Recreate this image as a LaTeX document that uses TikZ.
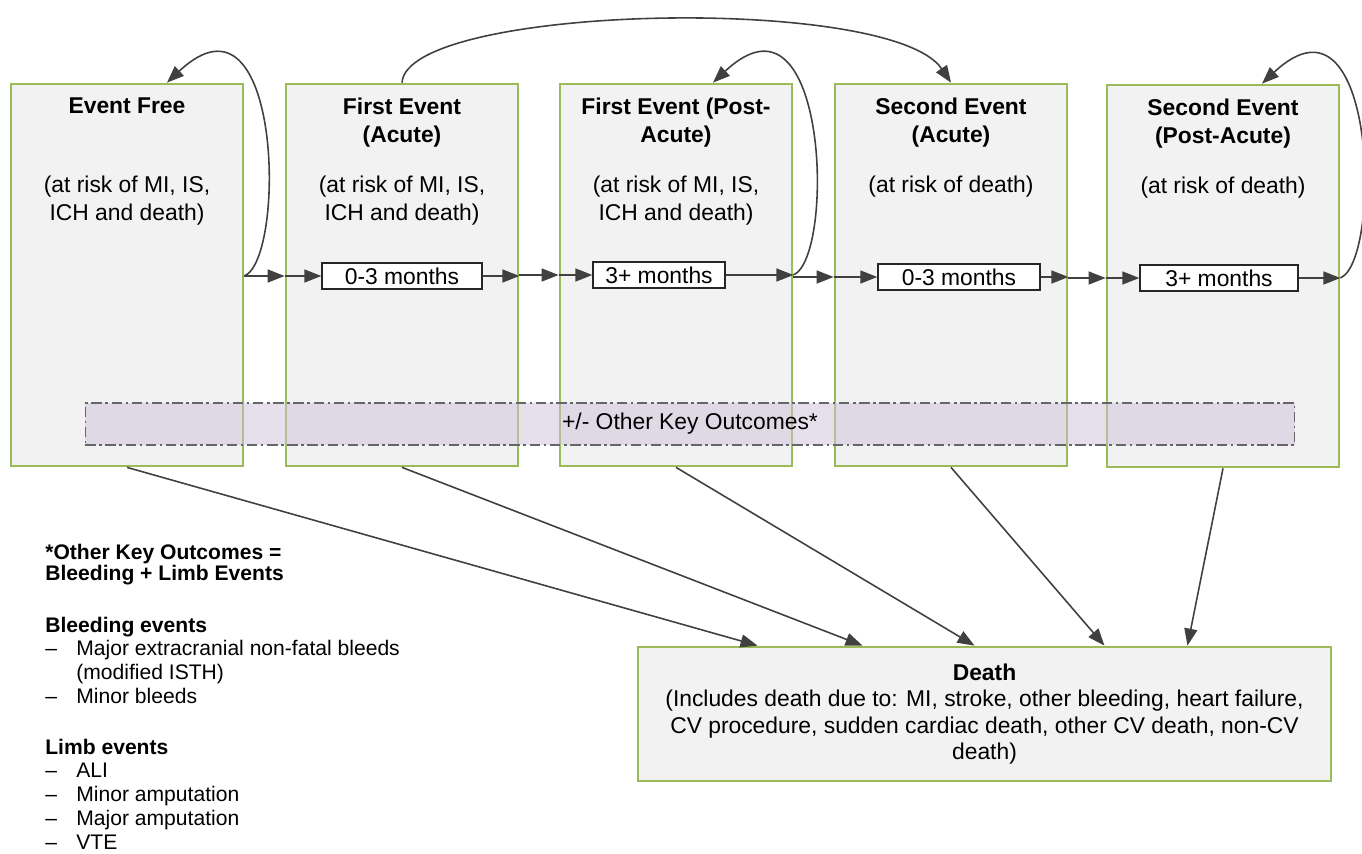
\documentclass[tikz,border=0pt]{standalone}
\usepackage{fontspec}
\setmainfont{Liberation Sans}
\usetikzlibrary{arrows.meta,positioning}

\definecolor{boxgreen}{HTML}{9BBB59}
\definecolor{boxfill}{HTML}{F2F2F2}
\definecolor{bandfill}{HTML}{CCC1DA}
\definecolor{linegray}{HTML}{404040}

\tikzset{
    state/.style={draw=boxgreen, line width=1.6pt, fill=boxfill, minimum width=4.64cm, minimum height=7.64cm, inner sep=0pt},
    ttl/.style={font=\fontsize{13}{15.8}\selectfont\bfseries, align=center, inner sep=0pt, anchor=north},
    risk/.style={align=center, inner sep=0pt, anchor=north},
    period/.style={draw=black!85, fill=white, line width=0.8pt, minimum height=0.52cm, inner sep=0pt},
    flow/.style={draw=linegray, line width=0.9pt, -{Triangle[length=3.4mm,width=2.6mm]}},
    legend/.style={font=\fontsize{12}{13.6}\selectfont, align=left, inner sep=0pt, anchor=north west}
}

\begin{document}
\begin{tikzpicture}[x=0.02cm, y=-0.02cm, font=\fontsize{13}{15.8}\selectfont]
        \useasboundingbox (0,0) rectangle (1362,853);

        \node[state] (b1) at (127,275) {};
        \node[state] (b2) at (402,275) {};
        \node[state] (b3) at (676,275) {};
        \node[state] (b4) at (951,275) {};
        \node[state] (b5) at (1223,276) {};

        \node[ttl] (t1) at ([yshift=-0.3cm]b1.north) {Event Free};
        \node[ttl] (t2) at ([yshift=-0.3cm]b2.north) {First Event\\(Acute)};
        \node[ttl] (t3) at ([yshift=-0.3cm]b3.north) {First Event (Post-\\Acute)};
        \node[ttl] (t4) at ([yshift=-0.3cm]b4.north) {Second Event\\(Acute)};
        \node[ttl] (t5) at ([yshift=-0.3cm]b5.north) {Second Event\\(Post-Acute)};

        \node[risk] (r1) at ([yshift=-1.86cm]b1.north) {(at risk of MI, IS,\\ICH and death)};
        \node[risk] (r2) at ([yshift=-1.86cm]b2.north) {(at risk of MI, IS,\\ICH and death)};
        \node[risk] (r3) at ([yshift=-1.86cm]b3.north) {(at risk of MI, IS,\\ICH and death)};
        \node[risk] (r4) at ([yshift=-1.86cm]b4.north) {(at risk of death)};
        \node[risk] (r5) at ([yshift=-1.86cm]b5.north) {(at risk of death)};

        \node[period, minimum width=3.2cm] (m1) at (402,276) {0-3 months};
        \node[period, minimum width=2.64cm] (m2) at (659,275) {3+ months};
        \node[period, minimum width=3.24cm] (m3) at (959,277) {0-3 months};
        \node[period, minimum width=3.16cm] (m4) at (1219,278) {3+ months};

        \draw[flow] (b1.east |- m1) -- (b2.west |- m1);
        \draw[flow] (b2.west |- m1) -- (m1);
        \draw[flow] (m1) -- (b2.east |- m1);
        \draw[flow] (b2.east |- m2) -- (b3.west |- m2);
        \draw[flow] (b3.west |- m2) -- (m2);
        \draw[flow] (m2) -- (b3.east |- m2);
        \draw[flow] (b3.east |- m3) -- (b4.west |- m3);
        \draw[flow] (b4.west |- m3) -- (m3);
        \draw[flow] (m3) -- (b4.east |- m3);
        \draw[flow] (b4.east |- m4) -- (b5.west |- m4);
        \draw[flow] (b5.west |- m4) -- (m4);
        \draw[flow] (m4) -- (b5.east |- m4);

        \draw[flow] (b1.east |- m1) .. controls +(42,-18) and +(115,-108) .. ([xshift=0.8cm]b1.north);
        \draw[flow] (b3.east |- m2) .. controls +(42,-18) and +(115,-108) .. ([xshift=0.74cm]b3.north);
        \draw[flow] (b5.east |- m4) .. controls +(42,-18) and +(115,-108) .. ([xshift=0.78cm]b5.north);
        \draw[flow] (b2.north) .. controls +(5,-78) and +(-60,-89) .. (b4.north);

        \node[draw=gray!80!black, line width=0.6pt, dash pattern=on 6pt off 2pt on 1.5pt off 2pt,
            fill=bandfill, fill opacity=0.5, text opacity=1, minimum width=24.2cm, minimum height=0.84cm]
            (band) at (690,424) {+/- Other Key Outcomes*};

        \node[state, minimum width=13.86cm, minimum height=2.68cm, align=center, font=\fontsize{13}{15}\selectfont]
            (death) at (984.5,714) {\textbf{Death}\\(Includes death due to: MI, stroke, other bleeding, heart failure,\\CV procedure, sudden cardiac death, other CV death, non-CV\\death)};

        \draw[flow] (b1.south) -- ([xshift=-4.54cm]death.north);
        \draw[flow] (b2.south) -- ([xshift=-2.44cm]death.north);
        \draw[flow] (b3.south) -- ([xshift=-0.2cm]death.north);
        \draw[flow] (b4.south) -- ([xshift=2.4cm]death.north);
        \draw[flow] (b5.south) -- ([xshift=4.06cm]death.north);

        \node[legend] (okey) at (45,544) {\textbf{*Other Key Outcomes =}\\[-1.7pt]\textbf{Bleeding + Limb Events}};
        \node[legend] (bleed) at (45,615) {\begin{tabular}{@{}l@{\hspace{11pt}}l@{}}
            \multicolumn{2}{@{}l@{}}{\textbf{Bleeding events}}\\
            -- & Major extracranial non-fatal bleeds\\
               & (modified ISTH)\\
            -- & Minor bleeds
        \end{tabular}};
        \node[legend] (limb) at (45,737) {\begin{tabular}{@{}l@{\hspace{11pt}}l@{}}
            \multicolumn{2}{@{}l@{}}{\textbf{Limb events}}\\
            -- & ALI\\
            -- & Minor amputation\\
            -- & Major amputation\\
            -- & VTE
        \end{tabular}};
    \end{tikzpicture}
\end{document}
